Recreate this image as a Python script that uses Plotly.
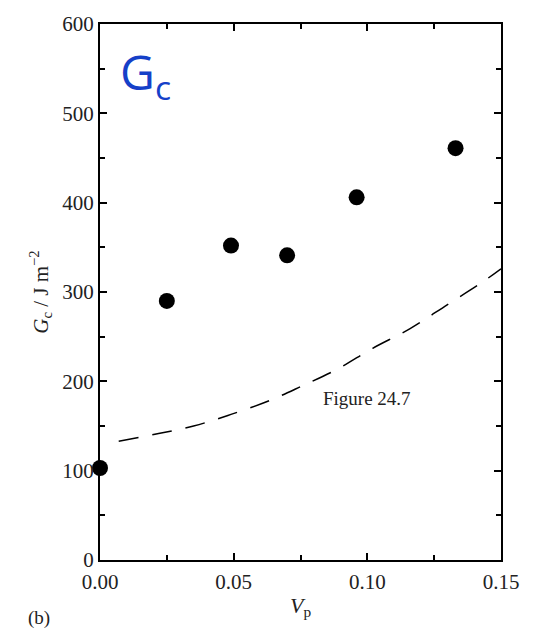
import plotly.graph_objects as go

vp_data = [0.0, 0.025, 0.049, 0.070, 0.096, 0.133]
gc_data = [103, 290, 352, 341, 406, 461]

vp_curve = [0.007, 0.021, 0.035, 0.049, 0.063, 0.075, 0.089, 0.102, 0.116, 0.130, 0.143, 0.150]
gc_curve = [133, 141, 150, 163, 178, 194, 214, 237, 259, 286, 311, 326]

serif = "Liberation Serif, DejaVu Serif, serif"

fig = go.Figure()
fig.add_trace(go.Scatter(x=vp_curve, y=gc_curve, mode="lines",
                         line=dict(color="black", width=1.5, dash="20px,14px", shape="spline"),
                         showlegend=False, hoverinfo="skip"))
fig.add_trace(go.Scatter(x=vp_data, y=gc_data, mode="markers",
                         marker=dict(color="black", size=16), showlegend=False, cliponaxis=False))

axis_common = dict(showline=True, linecolor="black", linewidth=2, mirror="ticks", ticks="inside",
                   ticklen=7, tickwidth=2, tickcolor="black", showgrid=False, zeroline=False,
                   tickfont=dict(family=serif, size=21, color="#222"))

fig.update_xaxes(range=[0, 0.15], tickvals=[0, 0.05, 0.10, 0.15], ticktext=["0.00", "0.05", "0.10", "0.15"],
                 minor=dict(ticks="inside", ticklen=5, tickwidth=1.5, tickcolor="black", dtick=0.025, tick0=0),
                 ticklabelstandoff=2,
                 title=dict(text="<i>V</i><sub>p</sub>", font=dict(family=serif, size=22, color="#222"), standoff=4),
                 **axis_common)
fig.update_yaxes(range=[0, 600], tickvals=[0, 100, 200, 300, 400, 500, 600],
                 minor=dict(ticks="inside", ticklen=5, tickwidth=1.5, tickcolor="black", dtick=50, tick0=0),
                 title=dict(text="<i>G</i><sub>c</sub> / J m<sup>\u22122</sup>", font=dict(family=serif, size=21, color="#222"), standoff=8),
                 **axis_common)

fig.add_annotation(x=0.100, y=181, xref="x", yref="y", text="Figure 24.7", showarrow=False,
                   font=dict(family=serif, size=19, color="#222"))
fig.add_annotation(x=0.045, y=0.975, xref="paper", yref="paper", xanchor="left", yanchor="top",
                   text="G<sub>c</sub>", showarrow=False,
                   font=dict(family="Open Sans, sans-serif", size=48, color="#1540c8"))
fig.add_annotation(x=-0.185, y=-0.108, xref="paper", yref="paper", xanchor="left", yanchor="middle",
                   text="(b)", showarrow=False, font=dict(family=serif, size=19, color="#222"))

fig.update_layout(width=541, height=628, margin=dict(l=100, r=40, t=20, b=68),
                  plot_bgcolor="white", paper_bgcolor="white")
fig.write_html("out.html", config={"displayModeBar": False},
               post_script="document.body.style.margin='0';document.body.style.overflow='hidden';")
